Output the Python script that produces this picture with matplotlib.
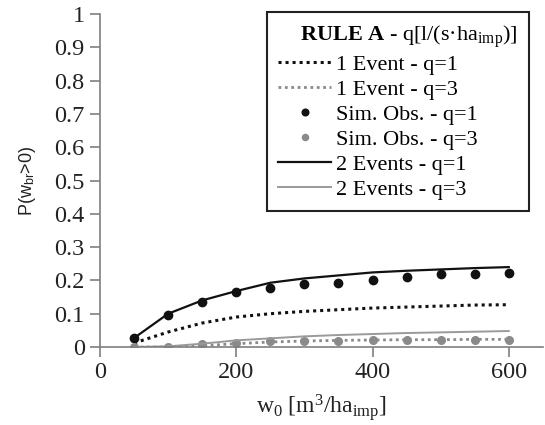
import numpy as np
from matplotlib import pyplot as plt

plt.rcParams['font.family'] = 'Liberation Serif'
plt.rcParams['mathtext.fontset'] = 'custom'
plt.rcParams['mathtext.rm'] = 'Liberation Serif'
plt.rcParams['mathtext.it'] = 'Liberation Serif:italic'
plt.rcParams['mathtext.bf'] = 'Liberation Serif:bold'
plt.rcParams['mathtext.sf'] = 'Liberation Sans'

# w0 values
w0 = [50, 100, 150, 200, 250, 300, 350, 400, 450, 500, 550, 600]

# 1 event model
ev1_q1 = [0.012, 0.045, 0.072, 0.090, 0.100, 0.107, 0.112, 0.117, 0.120, 0.123, 0.126, 0.127]
ev1_q3 = [0.0, 0.0, 0.004, 0.010, 0.015, 0.018, 0.020, 0.021, 0.022, 0.022, 0.023, 0.023]
# simulated observations
obs_q1 = [0.027, 0.096, 0.136, 0.166, 0.178, 0.188, 0.192, 0.201, 0.211, 0.219, 0.219, 0.221]
obs_q3 = [0.0, 0.0, 0.008, 0.012, 0.018, 0.019, 0.019, 0.020, 0.020, 0.022, 0.022, 0.022]
# 2 events model
ev2_q1 = [0.027, 0.100, 0.140, 0.168, 0.193, 0.206, 0.215, 0.224, 0.229, 0.233, 0.237, 0.240]
ev2_q3 = [0.0, 0.002, 0.010, 0.020, 0.026, 0.032, 0.036, 0.039, 0.042, 0.044, 0.046, 0.048]

fig = plt.figure(figsize=(5.45, 4.25), dpi=100)
ax = fig.add_axes([0.1835, 0.1835, 0.8125, 0.7835])

black = '#111111'
grey = '#8a8a8a'

l1, = ax.plot(w0, ev1_q1, color=black, lw=2.2, dashes=(1, 1.3))
l2, = ax.plot(w0, ev1_q3, color=grey, lw=2.0, dashes=(1, 1.3))
s1, = ax.plot(w0, obs_q1, 'o', color=black, ms=6, ls='none')
s2, = ax.plot(w0, obs_q3, 'o', color=grey, ms=5.5, ls='none')
l3, = ax.plot(w0, ev2_q1, '-', color=black, lw=1.6)
l4, = ax.plot(w0, ev2_q3, '-', color='#9a9a9a', lw=1.4)

ax.set_xlim(0, 650)
ax.set_ylim(0, 1)
ax.set_xticks([0, 200, 400, 600])
ax.set_yticks(np.arange(0, 1.01, 0.1))
ax.set_yticklabels(['0', '0.1', '0.2', '0.3', '0.4', '0.5', '0.6', '0.7', '0.8', '0.9', '1'])
for s in ['top', 'right']:
    ax.spines[s].set_visible(False)
for s in ['left', 'bottom']:
    ax.spines[s].set_color('#7f7f7f')
    ax.spines[s].set_linewidth(1.2)
ax.tick_params(axis='both', colors='#7f7f7f', labelcolor='#222222', labelsize=17.5, length=7, width=1.2, direction='out')
ax.tick_params(axis='y', pad=4)
ax.tick_params(axis='x', pad=4)

ax.set_xlabel('w$_0$ [m$^3$/ha$_{\\mathrm{imp}}$]', fontsize=17, color='#222222', labelpad=6)
ax.set_ylabel('P(w$_{\\mathsf{br}}$>0)', fontsize=13, family='Liberation Sans', color='#222222', labelpad=12)

leg = ax.legend([l1, l2, s1, s2, l3, l4],
                ['1 Event - q=1', '1 Event - q=3', 'Sim. Obs. - q=1', 'Sim. Obs. - q=3',
                 '2 Events - q=1', '2 Events - q=3'],
                title='    $\\mathbf{RULE\\ A}$ - q[l/(s·ha$_{\\mathrm{imp}}$)]',
                loc='upper right', bbox_to_anchor=(0.968, 1.006), borderaxespad=0,
                fontsize=16, title_fontsize=16, fancybox=False, framealpha=1,
                edgecolor='#222222', handlelength=2.4, handletextpad=0.2,
                labelspacing=0.2, borderpad=0.5, markerscale=0.8)
leg.get_frame().set_linewidth(1.5)
leg._legend_box.align = 'left'

plt.savefig('out.png', dpi=100)
